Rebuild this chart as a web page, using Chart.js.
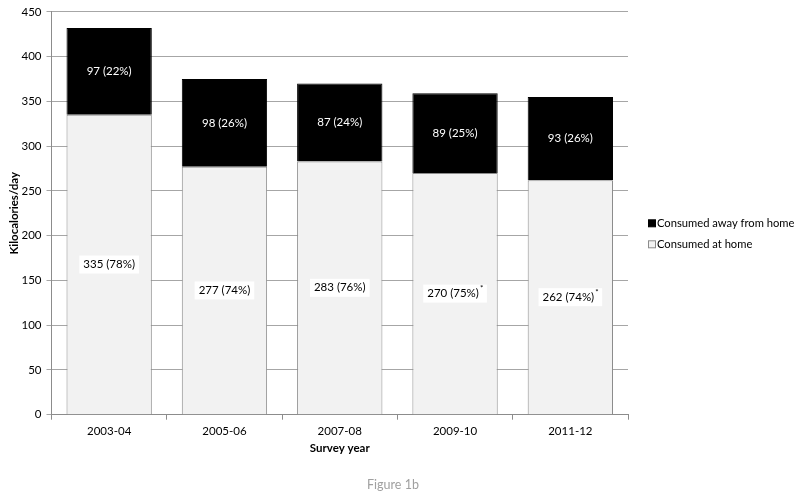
<!DOCTYPE html>
<html>
<head>
<meta charset="utf-8">
<script src="https://cdn.jsdelivr.net/npm/chart.js@4"></script>
<style>
html,body{margin:0;padding:0;background:#fff;}
#wrap{position:relative;width:800px;height:498px;}
#cap{position:absolute;left:293px;width:200px;top:477px;text-align:center;font-family:Lato,'Open Sans',sans-serif;font-size:12.5px;color:#a0a0a0;line-height:16px;}
</style>
</head>
<body>
<div id="wrap"><canvas id="c" width="800" height="498"></canvas><div id="cap">Figure 1b</div></div>
<script>
const categories = ["2003-04", "2005-06", "2007-08", "2009-10", "2011-12"];
const atHome = [335, 277, 283, 270, 262];
const atHomePct = [78, 74, 76, 75, 74];
const awayFromHome = [97, 98, 87, 89, 93];
const awayPct = [22, 26, 24, 25, 26];
const significant = [false, false, false, true, true];
const yTicks = [0, 50, 100, 150, 200, 250, 300, 350, 400, 450];
const legendItems = ["Consumed away from home", "Consumed at home"];

const FONT = "Lato, 'Open Sans', sans-serif";

const labelPlugin = {
  id: 'segLabels',
  afterDatasetsDraw(chart) {
    const ctx = chart.ctx;
    ctx.save();
    ctx.font = "11.5px " + FONT;
    ctx.textBaseline = 'middle';
    chart.data.datasets.forEach((ds, di) => {
      const meta = chart.getDatasetMeta(di);
      meta.data.forEach((bar, i) => {
        const top = Math.min(bar.y, bar.base), bot = Math.max(bar.y, bar.base);
        const cy = (top + bot) / 2;
        const txt = ds.data[i] + " (" + ds.pct[i] + "%)";
        const w = ctx.measureText(txt).width;
        const star = ds.stars && ds.stars[i];
        const sw = star ? 4 : 0;
        const x0 = bar.x - (w + sw) / 2;
        if (ds.boxed) {
          ctx.fillStyle = '#ffffff';
          ctx.fillRect(x0 - 4, cy - 9, w + sw + 8, 18);
          ctx.fillStyle = '#000000';
        } else {
          ctx.fillStyle = '#ffffff';
        }
        ctx.textAlign = 'left';
        ctx.fillText(txt, x0, cy);
        if (star) {
          ctx.font = "8px " + FONT;
          ctx.fillText("*", x0 + w + 1, cy - 5);
          ctx.font = "11.5px " + FONT;
        }
      });
    });
    ctx.restore();
  }
};

const legendPlugin = {
  id: 'sideLegend',
  afterDraw(chart) {
    const ctx = chart.ctx;
    const a = chart.chartArea;
    const x = a.right + 20;
    const y0 = (a.top + a.bottom) / 2 + 10;
    const fills = ['#000000', '#f2f2f2'];
    const strokes = ['#000000', '#8c8c8c'];
    ctx.save();
    ctx.font = "11.2px " + FONT;
    ctx.textBaseline = 'middle';
    legendItems.forEach((t, i) => {
      const y = y0 + i * 21;
      ctx.fillStyle = fills[i];
      ctx.fillRect(x + 0.5, y - 3.5, 7, 7);
      ctx.strokeStyle = strokes[i];
      ctx.lineWidth = 1;
      ctx.strokeRect(x + 0.5, y - 3.5, 7, 7);
      ctx.fillStyle = '#000';
      ctx.fillText(t, x + 9, y);
    });
    ctx.restore();
  }
};

new Chart(document.getElementById('c'), {
  type: 'bar',
  data: {
    labels: categories,
    datasets: [
      {
        label: 'Consumed at home',
        data: atHome,
        pct: atHomePct,
        stars: significant,
        boxed: true,
        backgroundColor: '#f2f2f2',
        borderColor: '#8c8c8c',
        borderWidth: 1,
        barPercentage: 0.74,
        categoryPercentage: 1.0
      },
      {
        label: 'Consumed away from home',
        data: awayFromHome,
        pct: awayPct,
        boxed: false,
        backgroundColor: '#000000',
        borderColor: '#000000',
        borderWidth: 1,
        barPercentage: 0.74,
        categoryPercentage: 1.0
      }
    ]
  },
  options: {
    responsive: false,
    animation: false,
    layout: { padding: { left: 7, right: 172, top: 5, bottom: 44 } },
    plugins: {
      legend: { display: false },
      title: { display: false },
      tooltip: { enabled: false }
    },
    scales: {
      x: {
        stacked: true,
        grid: { drawOnChartArea: false, drawTicks: true, tickLength: 5, offset: true, color: '#8c8c8c' },
        border: { color: '#8c8c8c' },
        ticks: { color: '#000', font: { family: FONT, size: 11.5 }, padding: 5 },
        title: { display: true, text: 'Survey year', color: '#000', font: { family: FONT, size: 11.5, weight: 'bold', lineHeight: 1 }, padding: { top: -1, bottom: 0 } }
      },
      y: {
        stacked: true,
        min: 0,
        max: 450,
        afterBuildTicks(axis) { axis.ticks = yTicks.map(v => ({ value: v })); },
        grid: { color: '#a6a6a6', tickLength: 5 },
        border: { color: '#8c8c8c' },
        ticks: { color: '#000', font: { family: FONT, size: 11.5 }, padding: 5 },
        title: { display: true, text: 'Kilocalories/day', color: '#000', font: { family: FONT, size: 11.5, weight: 'bold', lineHeight: 1 }, padding: { top: 2, bottom: -4 } }
      }
    }
  },
  plugins: [labelPlugin, legendPlugin]
});
</script>
</body>
</html>
